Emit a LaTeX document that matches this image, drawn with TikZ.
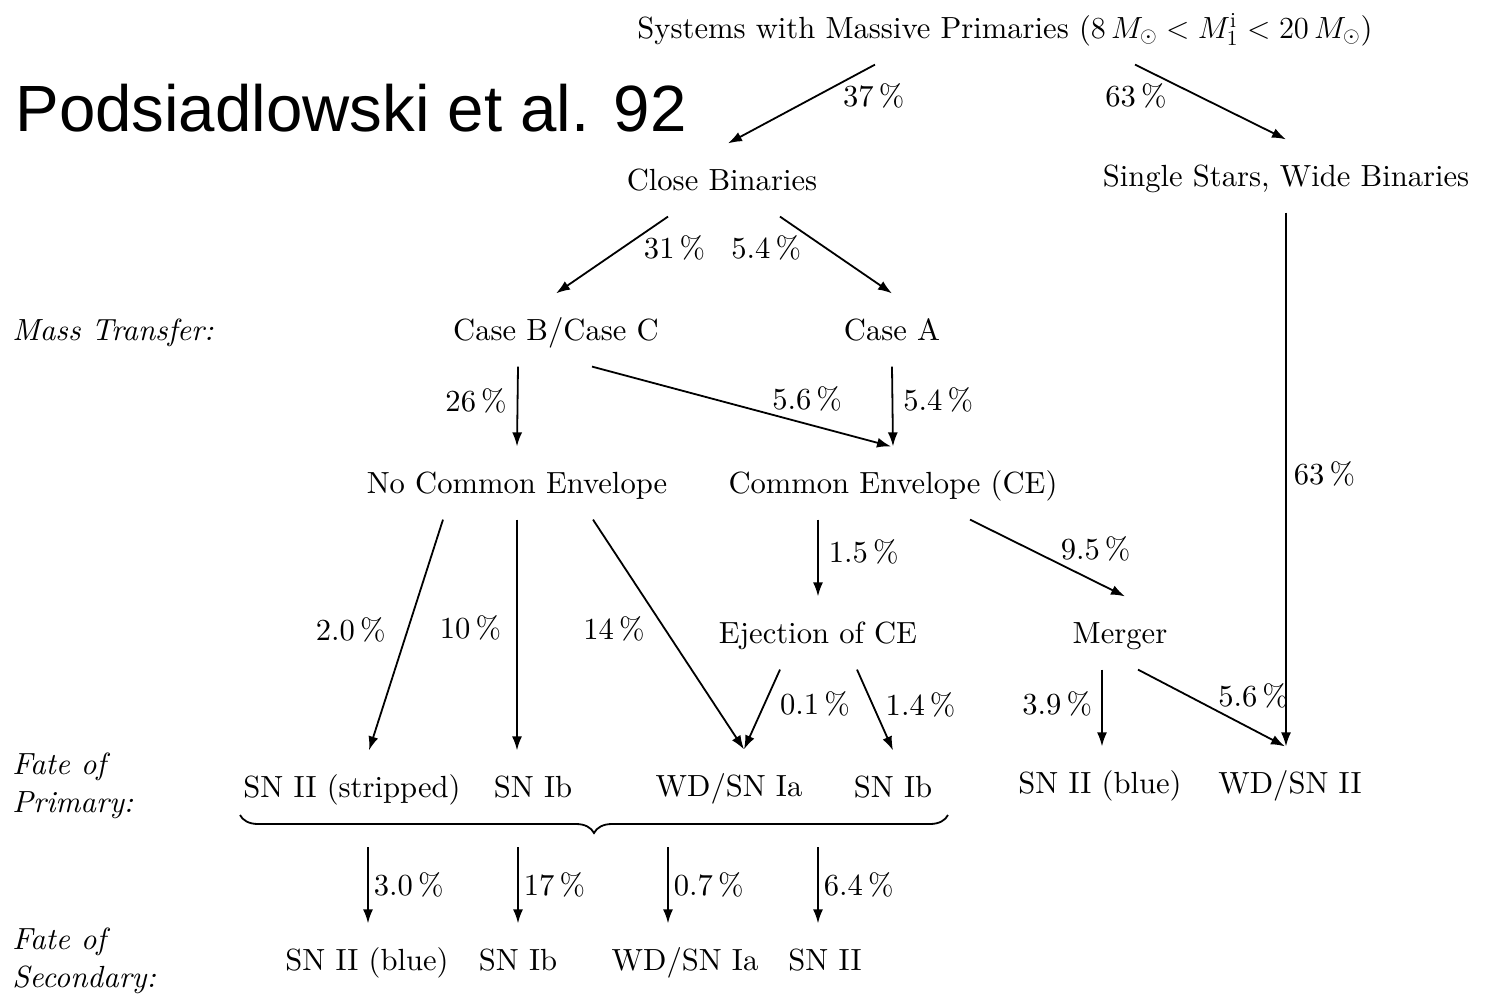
\documentclass[tikz,border=0pt]{standalone}
\usepackage{fix-cm}
\usepackage{amsmath,amssymb}
\usepackage{fontspec}
\setmainfont{lmroman10-regular.otf}[ItalicFont=lmroman10-italic.otf, BoldFont=lmroman10-bold.otf]
\newfontfamily\slidefont{Liberation Sans}
\usetikzlibrary{arrows.meta, positioning, calc, decorations.pathreplacing}

\begin{document}
\begin{tikzpicture}[
        x=0.5pt, y=-0.5pt,
        fate/.style={inner sep=0pt, outer xsep=0pt, outer ysep=11pt, text height=12.5pt, text depth=2.1pt, font=\fontsize{15.3}{18}\selectfont},
        pct/.style={inner sep=0pt, text height=12pt, text depth=2pt, font=\fontsize{15.3}{18}\selectfont},
        side/.style={anchor=west, align=left, inner sep=0pt, font=\fontsize{15.3}{19}\selectfont\itshape},
        arr/.style={-{Latex[length=7pt, width=5pt]}, line width=0.9pt},
        brc/.style={decorate, decoration={brace, mirror, amplitude=9pt}, line width=0.9pt}
    ]
    \useasboundingbox (0,0) rectangle (1485,997);

    \node[anchor=base west, inner sep=0pt, font=\slidefont\fontsize{32.7}{36}\selectfont] (ref) at (15,131) {Podsiadlowski et al. 92};

    % side labels
    \node[side] (mt) at (12,333) {Mass Transfer:};
    \node[side] (fp) at (12,786) {Fate of\\Primary:};
    \node[side] (fs) at (12,961) {Fate of\\Secondary:};

    % evolution tree
    \node[fate] (top) at (1005,28) {Systems with Massive Primaries ($8\,M_\odot < M_1^{\mathrm{i}} < 20\,M_\odot$)};
    \node[fate] (close) at (722,180) {Close Binaries};
    \node[fate] (single) at (1286,176) {Single Stars, Wide Binaries};
    \node[fate] (caseBC) at (556,330) {Case B/Case C};
    \node[fate] (caseA) at (892,330) {Case A};
    \node[fate] (noce) at (517,483) {No Common Envelope};
    \node[fate] (ce) at (893,483) {Common Envelope (CE)};
    \node[fate] (eject) at (818,633) {Ejection of CE};
    \node[fate] (merger) at (1120,633) {Merger};
    \node[fate] (snIIs) at (352,787) {SN II (stripped)};
    \node[fate] (snIb) at (533,787) {SN Ib};
    \node[fate] (wdIa) at (729,786) {WD/SN Ia};
    \node[fate] (snIbce) at (893,787) {SN Ib};
    \node[fate] (snIIblue) at (1100,783) {SN II (blue)};
    \node[fate] (wdII) at (1290,783) {WD/SN II};

    \draw[arr] ($(top.south)+(-130,0)$) -- node[pct, pos=0.4, anchor=west, xshift=13pt] (p37) {37\,\%} ($(close.north)+(6,0)$);
    \draw[arr] ($(top.south)+(130,0)$) -- node[pct, pos=0.42, anchor=east, xshift=-15.5pt] (p63a) {63\,\%} (single.north);
    \draw[arr] ($(close.south)+(-54,0)$) -- node[pct, pos=0.41, anchor=west, xshift=10.5pt] (p31) {31\,\%} (caseBC.north);
    \draw[arr] ($(close.south)+(58,0)$) -- node[pct, pos=0.41, anchor=east, xshift=-12pt] (p54a) {5.4\,\%} (caseA.north);
    \draw[arr] ($(caseBC.south)+(-38,0)$) -- node[pct, pos=0.44, left=5pt] (p26) {26\,\%} (noce.north);
    \draw[arr] ($(caseBC.south)+(36,0)$) -- node[pct, pos=0.6, anchor=south west] (p56a) {5.6\,\%} ($(ce.north)+(-2,0)$);
    \draw[arr] (caseA.south) -- node[pct, pos=0.43, right=5pt] (p54b) {5.4\,\%} (ce.north);
    \draw[arr] (single.south) -- node[pct, pos=0.49, right=3.5pt] (p63b) {63\,\%} (single.south |- wdII.north);
    \draw[arr] ($(noce.south)+(-74,0)$) -- node[pct, pos=0.48, left=10.5pt] (p20) {2.0\,\%} ($(snIIs.north)+(17,0)$);
    \draw[arr] (noce.south) -- node[pct, pos=0.47, left=7.5pt] (p10) {10\,\%} (noce.south |- snIb.north);
    \draw[arr] ($(noce.south)+(76,0)$) -- node[pct, pos=0.48, left=10pt] (p14) {14\,\%} ($(wdIa.north)+(15,0)$);
    \draw[arr] ($(ce.south)+(-75,0)$) -- node[pct, pos=0.43, right=5pt] (p15) {1.5\,\%} (eject.north);
    \draw[arr] ($(ce.south)+(77,0)$) -- node[pct, pos=0.58, anchor=south west] (p95) {9.5\,\%} ($(merger.north)+(5,0)$);
    \draw[arr] ($(eject.south)+(-38,0)$) -- node[pct, pos=0.44, right=7.5pt] (p01) {0.1\,\%} ($(wdIa.north)+(15,0)$);
    \draw[arr] ($(eject.south)+(39,0)$) -- node[pct, pos=0.44, right=6pt] (p14b) {1.4\,\%} (snIbce.north);
    \draw[arr] ($(merger.south)+(-18,0)$) -- node[pct, pos=0.46, left=4.5pt] (p39) {3.9\,\%} ($(snIIblue.north)+(2,0)$);
    \draw[arr] ($(merger.south)+(18,0)$) -- node[pct, pos=0.54, anchor=south west] (p56b) {5.6\,\%} ($(wdII.north)+(-5,0)$);

    \draw[brc] (240,815) -- (948,815);

    % fate of the secondary
    \foreach \n/\x/\t in {secA/367/{SN II (blue)}, secB/518/{SN Ib}, secC/685/{WD/SN Ia}, secD/825/{SN II}}
        \node[fate] (\n) at (\x,960) {\t};
    \foreach \n/\x/\p in {secA/368/3.0, secB/518/17, secC/668/0.7, secD/818/6.4} {
        \coordinate (b\n) at (\x,847);
        \draw[arr] (b\n) -- node[pct, right=2.5pt] (l\n) {\p\,\%} (b\n |- \n.north);
    }
\end{tikzpicture}
\end{document}
